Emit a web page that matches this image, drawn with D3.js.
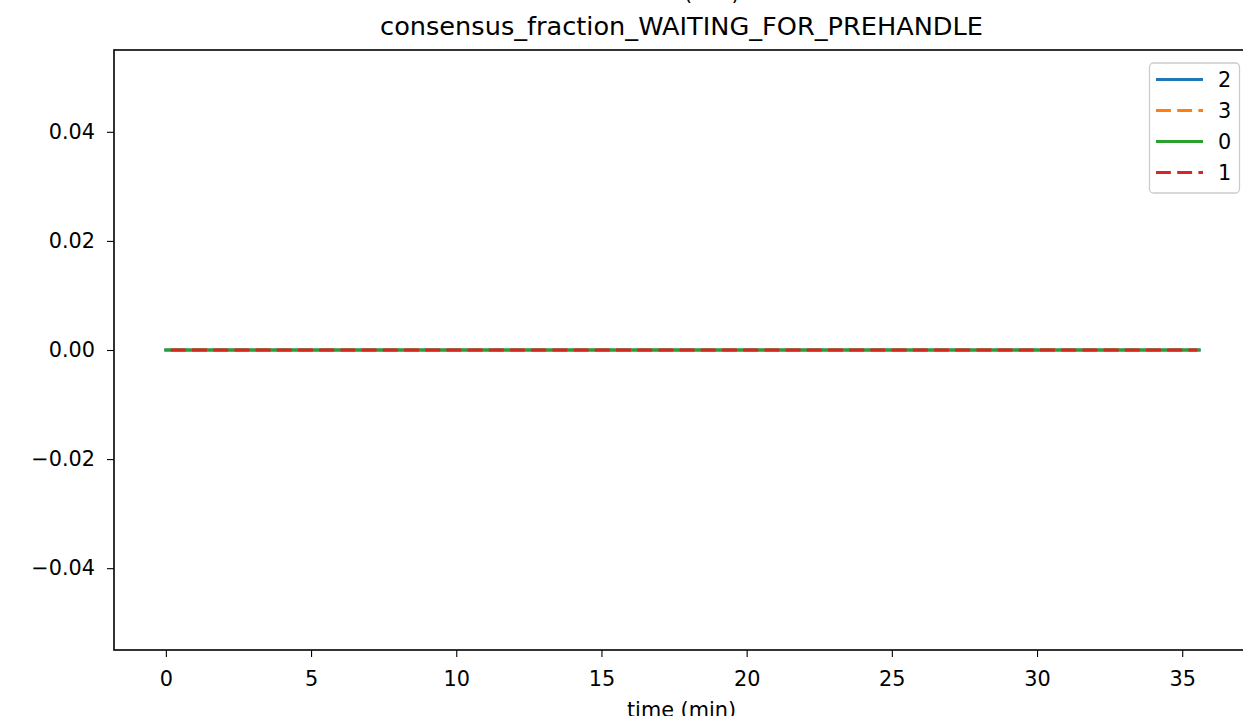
<!DOCTYPE html>
<html>
<head>
<meta charset="utf-8">
<script src="https://cdn.jsdelivr.net/npm/d3@7"></script>
<style>
  html, body { margin: 0; padding: 0; background: #fff; overflow: hidden; }
  text { font-family: "DejaVu Sans", sans-serif; fill: #000; }
</style>
</head>
<body>
<svg id="chart" width="1243" height="716"></svg>
<script>
// ---- data ----
const titleText = "consensus_fraction_WAITING_FOR_PREHANDLE";
const xLabel = "time (min)";
const seriesNames = ["2", "3", "0", "1"];
const seriesColors = ["#1f77b4", "#ff7f0e", "#2ca02c", "#d62728"];
const seriesDashed = [false, true, false, true];
const times2 = [0, 5, 10, 15, 20, 25, 30, 35, 35.58];
const values2 = [0, 0, 0, 0, 0, 0, 0, 0, 0];
const times3 = [0, 5, 10, 15, 20, 25, 30, 35, 35.52];
const values3 = [0, 0, 0, 0, 0, 0, 0, 0, 0];
const times0 = [0, 5, 10, 15, 20, 25, 30, 35, 35.58];
const values0 = [0, 0, 0, 0, 0, 0, 0, 0, 0];
const times1 = [0, 5, 10, 15, 20, 25, 30, 35, 35.52];
const values1 = [0, 0, 0, 0, 0, 0, 0, 0, 0];
const xTicks = [0, 5, 10, 15, 20, 25, 30, 35];
const yTicks = [-0.04, -0.02, 0.00, 0.02, 0.04];
const xDomain = [-1.786, 37.506];
const yDomain = [-0.055, 0.055];

const seriesTimes = [times2, times3, times0, times1];
const seriesValues = [values2, values3, values0, values1];

// ---- layout ----
const svg = d3.select("#chart");
const L = 114, T = 50, R = 1255, B = 650;
const x = d3.scaleLinear().domain(xDomain).range([L, R]);
const y = d3.scaleLinear().domain(yDomain).range([B, T]);

// partial label of the subplot above (cut off)
svg.append("text").attr("x", 685).attr("y", -0.5)
  .attr("text-anchor", "middle").style("font-size", "20.8px").text(xLabel);

// title
svg.append("text").attr("x", (L + R) / 2 - 3).attr("y", 35)
  .attr("text-anchor", "middle").style("font-size", "25.6px").text(titleText);

// lines
const line = d3.line().x(d => x(d[0])).y(d => y(d[1]));
seriesNames.forEach((name, i) => {
  const pts = seriesTimes[i].map((t, j) => [t, seriesValues[i][j]]);
  const p = svg.append("path").datum(pts)
    .attr("d", line)
    .attr("fill", "none")
    .attr("stroke", seriesColors[i])
    .attr("stroke-width", 3.1);
  if (seriesDashed[i]) {
    p.attr("stroke-dasharray", "14.9,6.3").attr("stroke-dashoffset", 16.2)
     .attr("stroke-linecap", "butt");
  } else {
    p.attr("stroke-linecap", "square");
  }
});

// axes
const xAxis = d3.axisBottom(x).tickValues(xTicks).tickSize(7).tickPadding(6)
  .tickFormat(d3.format("d"));
const gx = svg.append("g").attr("transform", `translate(0,${B})`).call(xAxis);
gx.select(".domain").remove();
gx.selectAll(".tick line").attr("stroke", "#000").attr("stroke-width", 1.1);
gx.selectAll(".tick text").style("font-size", "20.8px").style("font-family", "DejaVu Sans")
  .attr("dy", null).attr("y", 35.5);

const fmtY = v => { const s = d3.format(".2f")(Math.abs(v)); return (v < -1e-9 ? "\u2212" : "") + s; };
const yAxis = d3.axisLeft(y).tickValues(yTicks).tickSize(7).tickPadding(12).tickFormat(fmtY);
const gy = svg.append("g").attr("transform", `translate(${L},0)`).call(yAxis);
gy.select(".domain").remove();
gy.selectAll(".tick line").attr("stroke", "#000").attr("stroke-width", 1.1);
gy.selectAll(".tick text").style("font-size", "20.8px").style("font-family", "DejaVu Sans");

// spines
svg.append("rect").attr("x", L).attr("y", T).attr("width", R - L).attr("height", B - T)
  .attr("fill", "none").attr("stroke", "#000").attr("stroke-width", 1.6);

// x label
svg.append("text").attr("x", (L + R) / 2 - 3).attr("y", 717)
  .attr("text-anchor", "middle").style("font-size", "20.8px").text(xLabel);

// legend
const lg = svg.append("g");
lg.append("rect").attr("x", 1149.5).attr("y", 63).attr("width", 90).attr("height", 130)
  .attr("rx", 4).attr("fill", "#fff").attr("fill-opacity", 0.8)
  .attr("stroke", "#cccccc").attr("stroke-width", 1.3);
seriesNames.forEach((name, i) => {
  const yy = 79.5 + i * 31;
  const l = lg.append("line").attr("x1", 1156).attr("x2", 1203).attr("y1", yy).attr("y2", yy)
    .attr("stroke", seriesColors[i]).attr("stroke-width", 3.1);
  if (seriesDashed[i]) l.attr("stroke-dasharray", "14.9,6.3");
  lg.append("text").attr("x", 1218).attr("y", yy + 7.5).style("font-size", "20.8px").text(name);
});
</script>
</body>
</html>
